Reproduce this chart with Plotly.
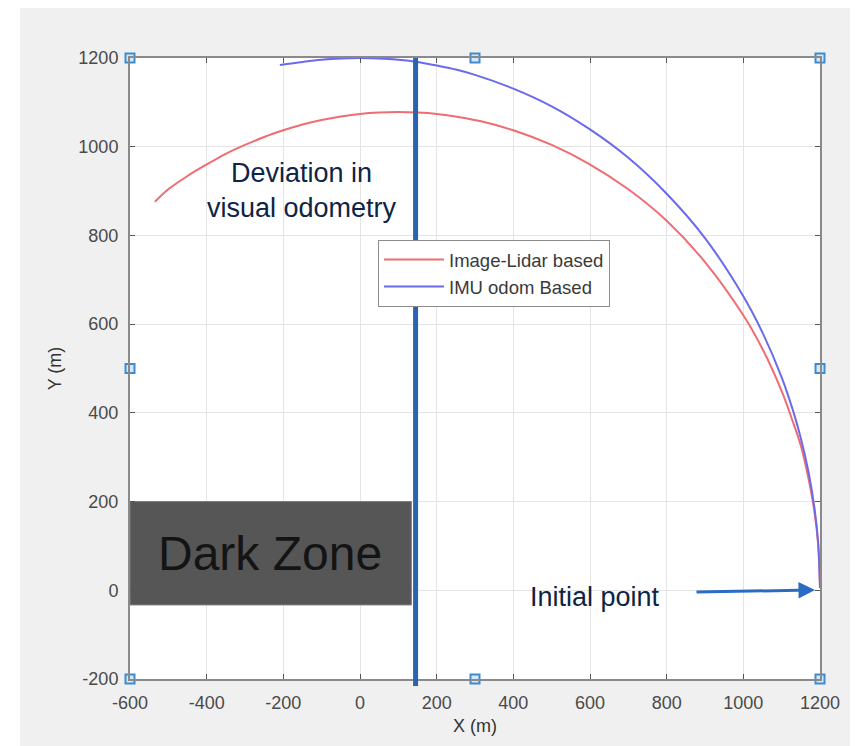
import plotly.graph_objects as go

# ---- data ----
red_x = [-535, -500, -450, -400, -350, -300, -250, -200, -150, -100, -50, 0, 50, 100, 150, 200, 250,
         313, 400, 500, 596, 700, 800, 900, 1000, 1050, 1100, 1130, 1150, 1170, 1185, 1195, 1200]
red_y = [876, 904, 934, 960, 984, 1004, 1022, 1037, 1050, 1060, 1068, 1074, 1077, 1078, 1077, 1074, 1068,
         1058, 1037, 1004, 962, 904, 833, 740, 620, 544, 449, 378, 326, 252, 180, 105, 5]

blue_x = [-209, -150, -100, -50, 0, 50, 100, 150, 200, 250, 300, 400, 500, 600, 700, 800, 900,
          1000, 1050, 1100, 1130, 1150, 1170, 1185, 1195, 1200]
blue_y = [1184, 1191, 1196, 1199, 1200, 1199, 1196, 1191, 1183, 1174, 1162, 1131, 1091, 1039, 975, 894, 794,
          663, 581, 480, 404, 343, 267, 189, 110, 5]

series_names = ["Image-Lidar based", "IMU odom Based"]

vline_x = 145

dark_zone_x = [-600, 134]
dark_zone_y = [-33, 200]

handle_x = [-600, 300, 1200, -600, 1200, -600, 300, 1200]
handle_y = [1200, 1200, 1200, 500, 500, -200, -200, -200]

x_ticks = [-600, -400, -200, 0, 200, 400, 600, 800, 1000, 1200]
y_ticks = [-200, 0, 200, 400, 600, 800, 1000, 1200]

FONT = "Liberation Sans, Arial, Helvetica, sans-serif"

# page pixel -> paper helpers (plot area spans page x 130..820, y 58..679)
def px(x):
    return (x - 130) / 690


def py(y):
    return (679 - y) / 621


fig = go.Figure()

fig.add_trace(go.Scatter(x=red_x, y=red_y, mode="lines", name=series_names[0],
                         line=dict(color="#f06c72", width=2, shape="spline", smoothing=1.0)))
fig.add_trace(go.Scatter(x=blue_x, y=blue_y, mode="lines", name=series_names[1],
                         line=dict(color="#6a6aec", width=2, shape="spline", smoothing=1.0)))

# selection handles
fig.add_trace(go.Scatter(x=handle_x, y=handle_y, mode="markers", showlegend=False,
                         cliponaxis=False, hoverinfo="skip",
                         marker=dict(symbol="square", size=9, color="#d6e7f7",
                                     line=dict(color="#3d8bd1", width=2))))

# dark zone box
fig.add_shape(type="rect", xref="x", yref="y",
              x0=dark_zone_x[0], x1=dark_zone_x[1], y0=dark_zone_y[0], y1=dark_zone_y[1],
              fillcolor="#565656", line=dict(color="#7a7a7a", width=1), layer="between")

# vertical deviation line (reaches slightly below the bottom axis, as in the reference)
fig.add_shape(type="line", xref="x", yref="paper", x0=vline_x, x1=vline_x,
              y0=py(686), y1=1, line=dict(color="#2c63b0", width=5), layer="above")

# white strip on the left of the gray figure background
fig.add_shape(type="rect", xref="paper", yref="paper", x0=px(8), x1=px(20),
              y0=py(760), y1=py(0), fillcolor="white", line=dict(width=0), layer="below")

fig.add_annotation(x=-235, y=84, xref="x", yref="y", text="Dark Zone", showarrow=False,
                   xanchor="center", yanchor="middle",
                   font=dict(family=FONT, size=48, color="#141414"))

fig.add_annotation(x=px(302), y=py(191), xref="paper", yref="paper",
                   text="Deviation in<br>visual odometry", showarrow=False,
                   xanchor="center", yanchor="middle",
                   font=dict(family=FONT, size=27, color="#0e2445"))

fig.add_annotation(x=px(595), y=py(597), xref="paper", yref="paper",
                   text="Initial point", showarrow=False,
                   xanchor="center", yanchor="middle",
                   font=dict(family=FONT, size=27, color="#0e2445"))

fig.add_annotation(x=px(815), y=py(590), xref="paper", yref="paper",
                   ax=-120, ay=2, text="", showarrow=True, arrowhead=2, arrowsize=1.1,
                   arrowwidth=3, arrowcolor="#2a6cc4")

axis_common = dict(
    showgrid=True, gridcolor="#e4e4e4", gridwidth=1, zeroline=False,
    showline=True, linecolor="#8a8a8a", linewidth=2, mirror="ticks",
    ticks="inside", ticklen=5, tickcolor="#555555", tickwidth=1,
    tickfont=dict(family=FONT, size=18, color="#4a4a4a"),
)

fig.update_xaxes(range=[-600, 1200], tickvals=x_ticks, ticktext=[str(v) for v in x_ticks],
                 title=dict(text="X (m)", font=dict(family=FONT, size=18, color="#333333"), standoff=8),
                 ticklabelstandoff=6, **axis_common)
fig.update_yaxes(range=[-200, 1200], tickvals=y_ticks, ticktext=[str(v) for v in y_ticks],
                 title=dict(text="Y (m)", font=dict(family=FONT, size=18, color="#333333"), standoff=12),
                 ticklabelstandoff=6, **axis_common)

# figure is offset 8px by the page's body margin; sizes chosen so the plot lands as in the reference
fig.update_layout(
    width=850, height=738,
    margin=dict(l=122, r=38, t=50, b=67),
    paper_bgcolor="#f0f0f0", plot_bgcolor="white",
    showlegend=True,
    legend=dict(x=px(378), y=py(240), xanchor="left", yanchor="top",
                bgcolor="white", bordercolor="#8c8c8c", borderwidth=1,
                font=dict(family=FONT, size=18.5, color="#3a3a3a"), itemwidth=60,
                tracegroupgap=0),
)

fig.write_html("out.html")
